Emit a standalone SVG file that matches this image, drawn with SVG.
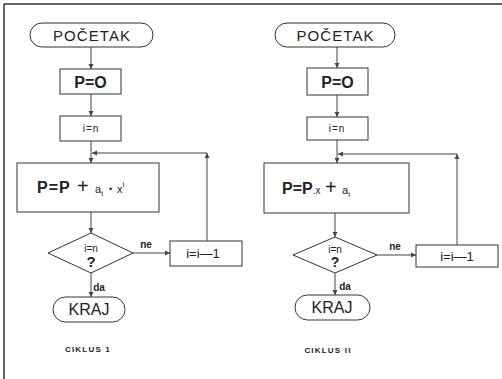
<svg xmlns="http://www.w3.org/2000/svg" width="502" height="379" viewBox="0 0 502 379">
<style>
.s{fill:#fff;stroke:#333;stroke-width:1}
.c{fill:none;stroke:#444;stroke-width:1}
text{font-family:"Liberation Sans",Arial,sans-serif;fill:#222}
.t{font-size:15px;text-anchor:middle}
.b{font-weight:bold}
.m{text-anchor:middle}
</style>
<defs>
<marker id="a" markerWidth="6" markerHeight="6" refX="5" refY="3" orient="auto" markerUnits="userSpaceOnUse">
<path d="M0,0.5 L5,3 L0,5.5 Z" fill="#444"/>
</marker>
</defs>
<rect width="502" height="379" fill="#fff"/>
<g id="frame">
<line x1="4" y1="4" x2="502" y2="4" stroke="#333" stroke-width="1.5"/>
<line x1="4" y1="4" x2="4" y2="379" stroke="#333" stroke-width="1.5"/>
</g>
<g id="connectors">
<path class="c" d="M91,47 V69" marker-end="url(#a)"/>
<path class="c" d="M91,94 V116" marker-end="url(#a)"/>
<path class="c" d="M91,141 V163" marker-end="url(#a)"/>
<path class="c" d="M207,241 V153" marker-end="url(#a)"/>
<path class="c" d="M207,153 H92" marker-end="url(#a)"/>
<path class="c" d="M91,212 V233" marker-end="url(#a)"/>
<path class="c" d="M133,253 H170" marker-end="url(#a)"/>
<path class="c" d="M91,273 V297" marker-end="url(#a)"/>
<path class="c" d="M337,47 V68" marker-end="url(#a)"/>
<path class="c" d="M337,95 V117" marker-end="url(#a)"/>
<path class="c" d="M337,140 V163" marker-end="url(#a)"/>
<path class="c" d="M457,245 V154" marker-end="url(#a)"/>
<path class="c" d="M457,154 H338" marker-end="url(#a)"/>
<path class="c" d="M335,213 V237" marker-end="url(#a)"/>
<path class="c" d="M377,255 H416" marker-end="url(#a)"/>
<path class="c" d="M335,273 V295" marker-end="url(#a)"/>
<text x="146" y="248" class="m b" font-size="10">ne</text>
<text x="99" y="291" class="m b" font-size="10">da</text>
<text x="395" y="250" class="m b" font-size="10">ne</text>
<text x="345" y="290" class="m b" font-size="10">da</text>
</g>
<g id="start1">
<rect class="s" x="30" y="23" width="123" height="24" rx="12"/>
<text x="91.5" y="40.5" class="t" textLength="77">POČETAK</text>
</g>
<g id="p0_1">
<rect class="s" x="60" y="69" width="61" height="25"/>
<text x="90.5" y="87.5" class="m b" font-size="16">P=O</text>
</g>
<g id="in1">
<rect class="s" x="60" y="116" width="61" height="25"/>
<text x="91" y="132" class="m" font-size="10" letter-spacing="1">i=n</text>
</g>
<g id="calc1">
<rect class="s" x="17" y="163" width="142" height="49"/>
<text y="193" font-size="16"><tspan x="37" font-weight="bold" letter-spacing="1">P=P</tspan><tspan x="77" font-size="20">+</tspan><tspan x="95" font-size="11">a</tspan><tspan font-size="8" dy="3">i</tspan><tspan x="109" font-size="9" dy="-4">•</tspan><tspan x="117" font-size="11" dy="1">x</tspan><tspan font-size="8" dy="-6">i</tspan></text>
</g>
<g id="dec1">
<polygon class="s" points="91,233 133,253 91,273 48,253"/>
<text x="91" y="252" class="m" font-size="10">i=n</text>
<text x="91" y="267" class="m b" font-size="15">?</text>
</g>
<g id="dec1b">
<rect class="s" x="170" y="241" width="72" height="25"/>
<text x="203" y="258" class="m" font-size="13">i=i—1</text>
</g>
<g id="end1">
<rect class="s" x="53" y="297" width="72" height="25" rx="12.5"/>
<text x="89" y="315" class="m" font-size="16">KRAJ</text>
</g>
<text x="88" y="352" class="m b" font-size="8" letter-spacing="1.2">CIKLUS 1</text>
<g id="start2">
<rect class="s" x="275" y="23" width="120" height="24" rx="12"/>
<text x="335" y="40.5" class="t" textLength="77">POČETAK</text>
</g>
<g id="p0_2">
<rect class="s" x="307" y="68" width="61" height="27"/>
<text x="337.5" y="87.5" class="m b" font-size="16">P=O</text>
</g>
<g id="in2">
<rect class="s" x="307" y="117" width="61" height="23"/>
<text x="337" y="132" class="m" font-size="10" letter-spacing="1">i=n</text>
</g>
<g id="calc2">
<rect class="s" x="264" y="163" width="145" height="50"/>
<text y="194" font-size="16"><tspan x="282" font-weight="bold">P=P</tspan><tspan font-size="10">.x</tspan><tspan x="325" font-size="20">+</tspan><tspan x="342" font-size="11">a</tspan><tspan font-size="8" dy="3">i</tspan></text>
</g>
<g id="dec2">
<polygon class="s" points="335,237 377,255 335,273 293,255"/>
<text x="335" y="253" class="m" font-size="10">i=n</text>
<text x="335" y="267" class="m b" font-size="14">?</text>
</g>
<g id="dec2b">
<rect class="s" x="416" y="245" width="82" height="22"/>
<text x="457" y="261" class="m" font-size="13">i=i—1</text>
</g>
<g id="end2">
<rect class="s" x="295" y="295" width="75" height="25" rx="12.5"/>
<text x="332" y="313" class="m" font-size="16">KRAJ</text>
</g>
<text x="328" y="353" class="m b" font-size="8" letter-spacing="1.2">CIKLUS II</text>
</svg>
